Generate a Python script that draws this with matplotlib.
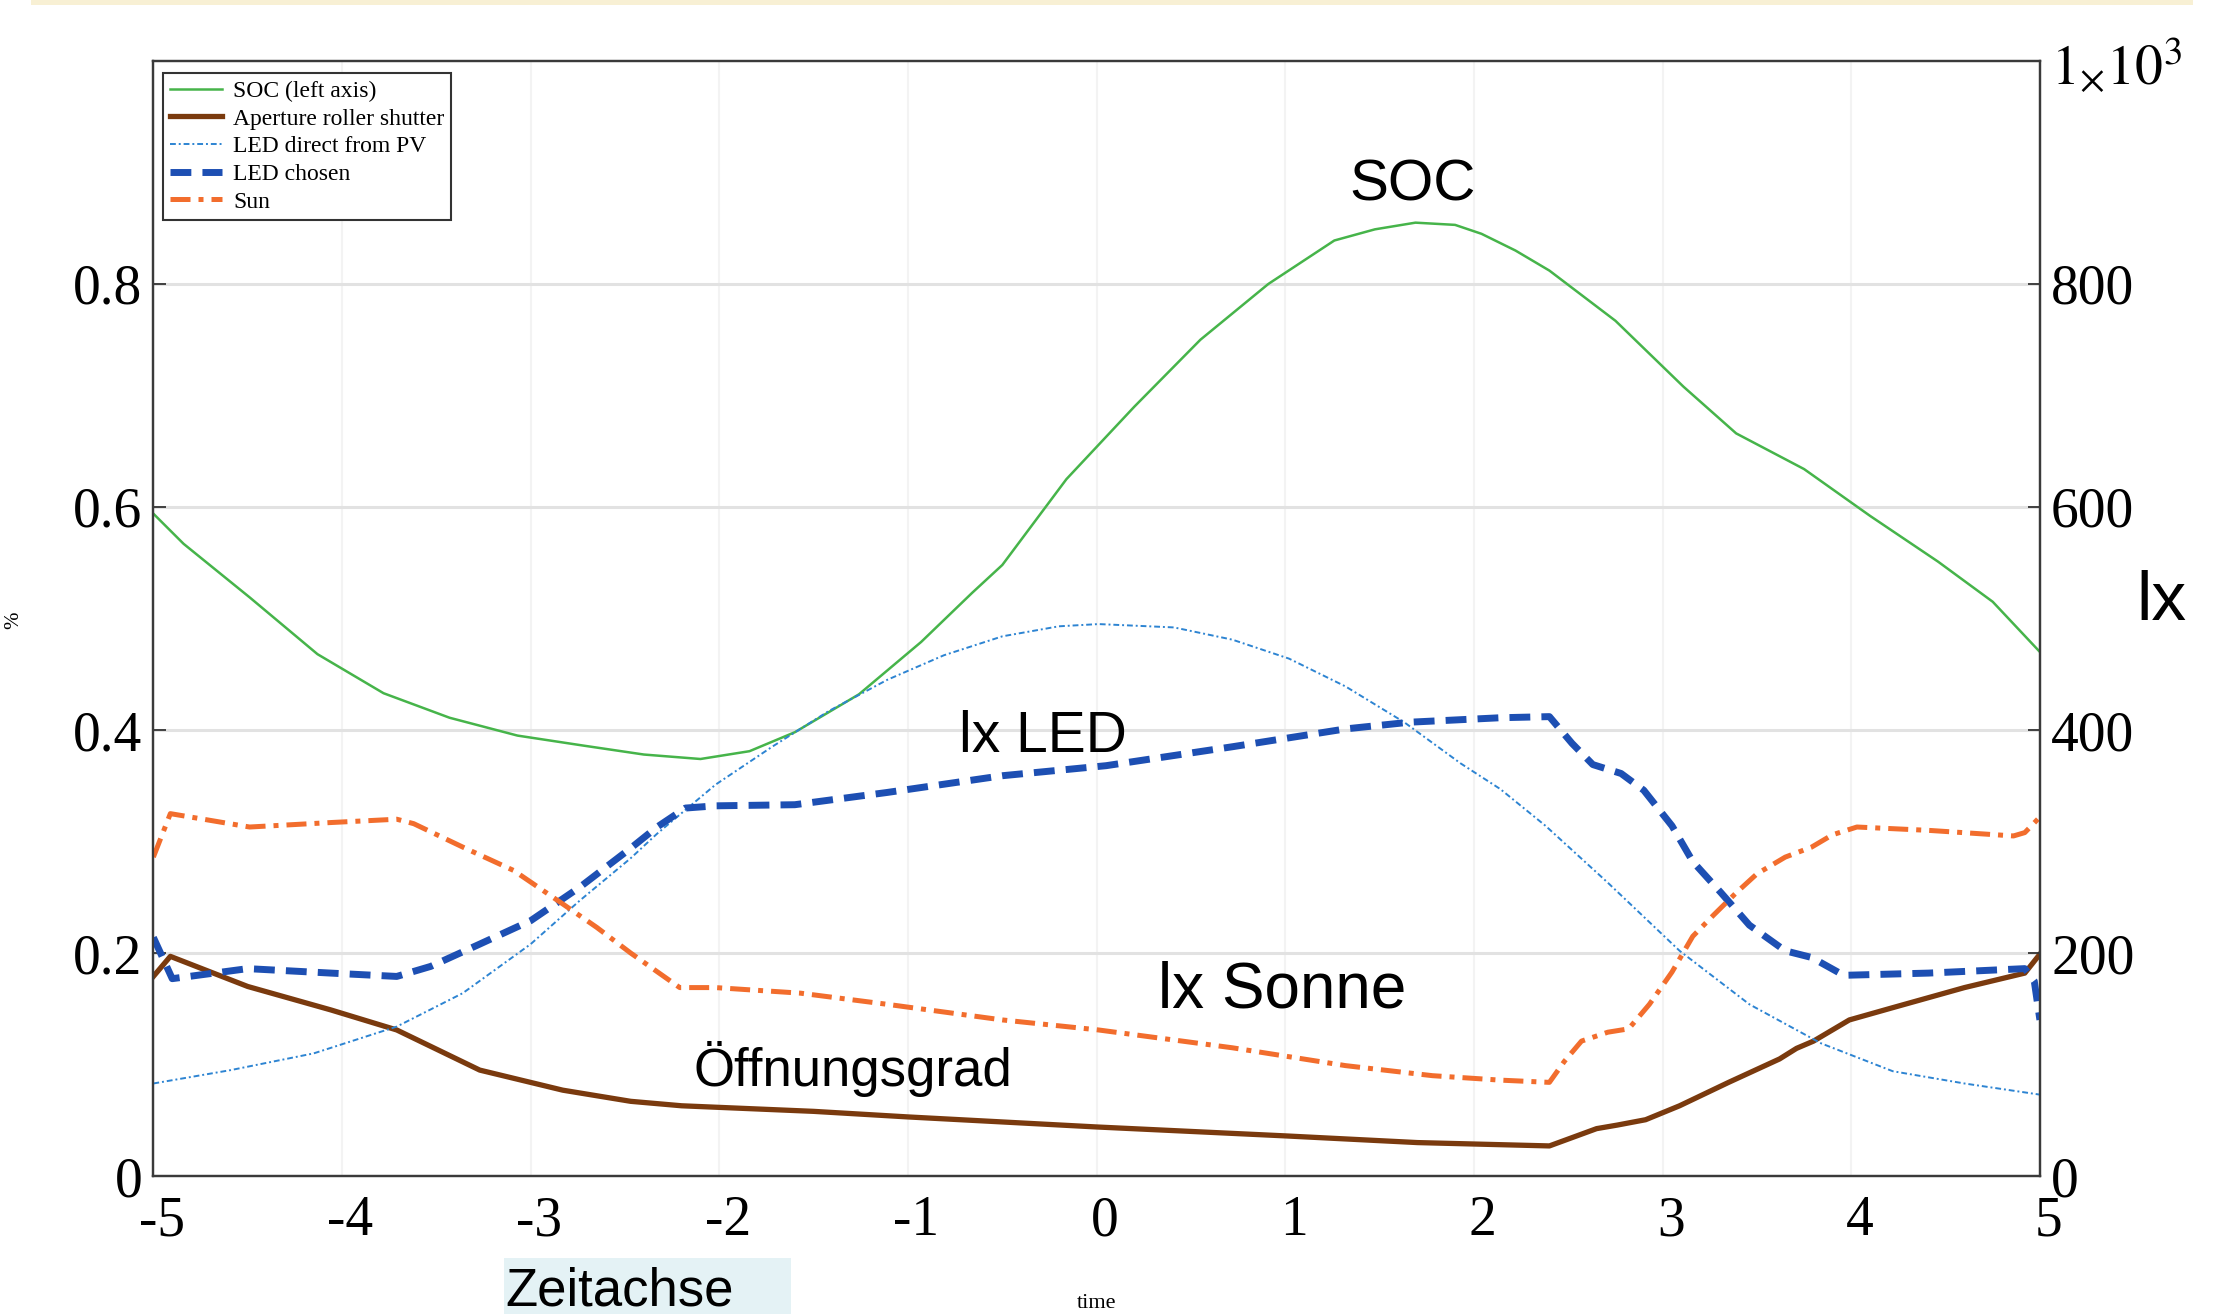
import matplotlib
matplotlib.use("Agg")
import matplotlib.pyplot as plt
from matplotlib.patches import Rectangle
from matplotlib.transforms import ScaledTranslation

plt.rcParams['font.family'] = ['Liberation Serif', 'DejaVu Serif']
plt.rcParams['axes.unicode_minus'] = False
plt.rcParams['mathtext.fontset'] = 'stix'

# --- data (time axis -5..5) ---
# state of charge, left axis (0..1)
soc_t = [-5, -4.84, -4.49, -4.13, -3.78, -3.43, -3.07, -2.72, -2.4, -2.1, -1.84, -1.6,
         -1.26, -0.93, -0.66, -0.5, -0.16, 0.2, 0.55, 0.91, 1.26, 1.475, 1.69, 1.9, 2.04,
         2.22, 2.4, 2.75, 3.11, 3.39, 3.75, 4.1, 4.46, 4.75, 5]
soc = [0.594, 0.567, 0.519, 0.468, 0.433, 0.411, 0.395, 0.386, 0.378, 0.374, 0.381, 0.398,
       0.432, 0.479, 0.523, 0.548, 0.625, 0.690, 0.750, 0.800, 0.839, 0.849, 0.855, 0.853,
       0.845, 0.830, 0.812, 0.767, 0.708, 0.666, 0.634, 0.592, 0.551, 0.515, 0.470]

# aperture of the roller shutter, left axis
ap_t = [-5, -4.91, -4.5, -4.06, -3.71, -3.27, -2.83, -2.47, -2.2, -1.5, -1, 0, 1, 1.7, 2.4,
        2.65, 2.76, 2.91, 3.09, 3.35, 3.62, 3.71, 3.8, 3.99, 4.22, 4.6, 4.92, 5]
aperture = [0.179, 0.197, 0.170, 0.149, 0.131, 0.095, 0.077, 0.067, 0.063, 0.058, 0.053,
            0.044, 0.036, 0.030, 0.027, 0.0425, 0.0457, 0.0505, 0.063, 0.084, 0.105,
            0.1145, 0.121, 0.140, 0.151, 0.169, 0.182, 0.199]

# LED direct from PV, right axis (lx)
pv_t = [-5, -4.59, -4.15, -3.71, -3.36, -3.0, -2.74, -2.47, -2.33, -2.02, -1.72, -1.42,
        -1.11, -0.81, -0.5, -0.2, 0.01, 0.41, 0.72, 1.02, 1.32, 1.63, 1.93, 2.14, 2.38,
        2.71, 3.09, 3.46, 3.84, 4.22, 4.6, 5]
led_pv = [83, 95, 110, 134, 164, 208, 247, 285, 307, 351, 385, 417,
          445, 467, 484, 493, 495, 492, 481, 464, 439, 407, 370, 347, 314,
          263, 202, 154, 119, 94, 83, 73]

# LED chosen, right axis (lx)
ch_t = [-5, -4.9, -4.5, -4.06, -3.71, -3.53, -3.27, -3.0, -2.74, -2.47, -2.33, -2.18,
        -2.02, -1.6, -1.11, -0.5, 0.05, 0.72, 1.32, 1.66, 2.14, 2.4, 2.52, 2.63, 2.78,
        2.9, 3.05, 3.16, 3.31, 3.46, 3.65, 3.79, 3.96, 4.41, 4.92, 4.97, 5.0]
led_chosen = [214, 177, 186, 182, 179, 188, 208, 229, 259, 294, 313, 330,
              332, 333, 344, 359, 368, 385, 401, 407, 411, 412, 388, 369, 361,
              346, 314, 282, 254, 225, 202, 196, 180, 182, 186, 175, 140]

# sun, right axis (lx)
sun_t = [-5, -4.91, -4.49, -4.06, -3.71, -3.62, -3.36, -3.09, -2.83, -2.65, -2.47, -2.21,
         -2.02, -1.57, -1.11, -0.5, 0.01, 0.72, 1.32, 1.78, 2.14, 2.4, 2.48, 2.57, 2.71,
         2.82, 2.93, 3.05, 3.16, 3.27, 3.39, 3.5, 3.65, 3.79, 3.9, 4.03, 4.41, 4.86,
         4.92, 5.0]
sun = [286, 325, 313, 317, 320, 316, 295, 274, 244, 223, 200, 169,
       169, 164, 154, 140, 131, 115, 99, 90, 86, 84, 103, 121, 129,
       132, 154, 183, 215, 234, 254, 271, 286, 295, 306, 313, 310, 305,
       308, 322]

x_ticks = [-5, -4, -3, -2, -1, 0, 1, 2, 3, 4, 5]
left_ticks = [0, 0.2, 0.4, 0.6, 0.8]
left_labels = ['0', '0.2', '0.4', '0.6', '0.8']
right_ticks = [0, 200, 400, 600, 800, 1000]
right_labels = ['0', '200', '400', '600', '800', r'$1_{\times}10^{3}$']

sans = ['Liberation Sans']

fig = plt.figure(figsize=(22.26, 13.14), dpi=100)
fig.patches.append(Rectangle((0.014, 0.996), 0.971, 0.004, transform=fig.transFigure,
                             facecolor='#f8f0d4', edgecolor='none'))

ax = fig.add_axes([0.0689, 0.105, 0.8475, 0.8486])
ax2 = ax.twinx()

ax.yaxis.grid(True, color='#e2e2e2', lw=2.2)
ax.xaxis.grid(True, color='#f3f3f3', lw=1.5)
ax.set_axisbelow(True)

l1, = ax.plot(soc_t, soc, color='#46b44a', lw=1.8)
l2, = ax.plot(ap_t, aperture, color='#7a3a0e', lw=3.8)
l3, = ax2.plot(pv_t, led_pv, color='#2d84d2', lw=1.4, ls=(0, (3, 1.5, 1, 1.5)))
l4, = ax2.plot(ch_t, led_chosen, color='#1d4fb3', lw=5, ls=(0, (3, 1.6)))
l5, = ax2.plot(sun_t, sun, color='#f26d2d', lw=3.6, ls=(0, (4, 1.6, 1, 1.6)))

ax.set_xlim(-5, 5)
ax.set_ylim(0, 1)
ax2.set_ylim(0, 1000)

ax.set_xticks(x_ticks)
ax.set_xticklabels([str(v) for v in x_ticks])
ax.set_yticks(left_ticks)
ax.set_yticklabels(left_labels)
ax2.set_yticks(right_ticks)
ax2.set_yticklabels(right_labels)

ax.tick_params(axis='y', direction='in', length=9, width=1.3, pad=8, labelsize=40, color='#333333')
ax.tick_params(axis='x', length=0, pad=14, labelsize=40)
ax2.tick_params(axis='y', direction='in', length=9, width=1.3, pad=8, labelsize=40, color='#333333')
shift = ScaledTranslation(0.085, 0, fig.dpi_scale_trans)
for lbl in ax.get_xticklabels():
    lbl.set_transform(lbl.get_transform() + shift)

for a in (ax, ax2):
    for sp in a.spines.values():
        sp.set_color('#3a3a3a')
        sp.set_linewidth(1.6)

leg = ax2.legend([l1, l2, l3, l4, l5],
                 ['SOC (left axis)', 'Aperture roller shutter', 'LED direct from PV',
                  'LED chosen', 'Sun'],
                 loc='upper left', bbox_to_anchor=(0.0053, 0.989), borderaxespad=0,
                 prop={'family': 'Liberation Serif', 'size': 17}, fancybox=False,
                 framealpha=1, edgecolor='#333333', borderpad=0.3, labelspacing=0.26,
                 handlelength=2.2, handletextpad=0.45)
leg.get_frame().set_linewidth(1.5)

# annotations written on the chart
ax.text(1.672, 0.875, 'SOC', ha='center', va='baseline', fontsize=42, family=sans)
ax.text(-0.284, 0.3805, 'lx LED', ha='center', va='baseline', fontsize=41, family=sans)
ax.text(0.981, 0.1512, 'lx Sonne', ha='center', va='baseline', fontsize=46, family=sans)
ax.text(-1.294, 0.0805, 'Öffnungsgrad', ha='center', va='baseline', fontsize=38, family=sans)

fig.text(0.9712, 0.5282, 'lx', ha='center', va='baseline', fontsize=50, family=sans)
fig.text(0.0063, 0.528, '%', rotation=90, ha='center', va='center', fontsize=15)
fig.text(0.4924, 0.0046, 'time', ha='center', va='baseline', fontsize=16)

fig.patches.append(Rectangle((0.2264, 0.0), 0.1289, 0.0426, transform=fig.transFigure,
                             facecolor='#e4f2f5', edgecolor='none'))
fig.text(0.2269, 0.0061, 'Zeitachse', ha='left', va='baseline', fontsize=38, family=sans)

fig.savefig('out.png', dpi=100)
